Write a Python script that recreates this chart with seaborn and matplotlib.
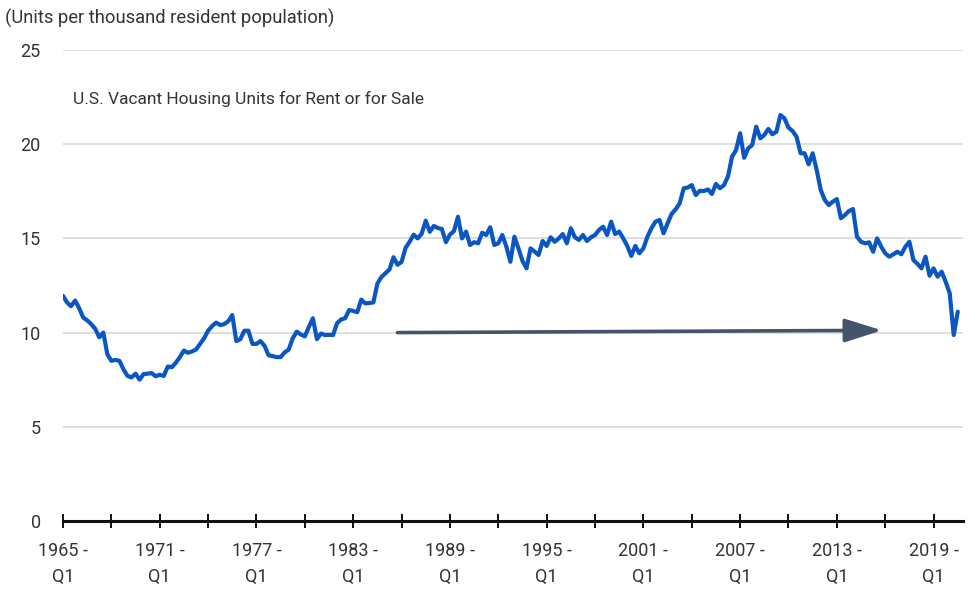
import numpy as np
import pandas as pd
import matplotlib
matplotlib.use("Agg")
import matplotlib.pyplot as plt
import seaborn as sns

# Quarterly series, 1965 Q1 .. 2020 Q3
vacant_units = [
    11.95, 11.6, 11.4, 11.7, 11.3, 10.8, 10.65, 10.45, 10.2, 9.75,
    10.0, 8.85, 8.5, 8.55, 8.5, 8.05, 7.7, 7.62, 7.82, 7.5,
    7.8, 7.82, 7.85, 7.68, 7.76, 7.7, 8.2, 8.16, 8.4, 8.7,
    9.05, 8.93, 9.0, 9.1, 9.4, 9.7, 10.1, 10.35, 10.53, 10.4,
    10.45, 10.6, 10.93, 9.55, 9.65, 10.1, 10.1, 9.4, 9.4, 9.55,
    9.3, 8.8, 8.75, 8.7, 8.7, 8.95, 9.1, 9.7, 10.05, 9.9,
    9.8, 10.3, 10.76, 9.65, 9.95, 9.87, 9.88, 9.87, 10.5, 10.7,
    10.76, 11.2, 11.15, 11.08, 11.75, 11.55, 11.57, 11.6, 12.6, 12.95,
    13.15, 13.35, 14.0, 13.6, 13.75, 14.5, 14.82, 15.2, 15.0, 15.25,
    15.94, 15.35, 15.66, 15.55, 15.5, 14.8, 15.2, 15.39, 16.15, 15.0,
    15.36, 14.65, 14.8, 14.74, 15.3, 15.18, 15.59, 14.65, 14.74, 15.18,
    14.56, 13.76, 15.09, 14.47, 13.8, 13.41, 14.47, 14.3, 14.12, 14.86,
    14.6, 15.06, 14.82, 15.0, 15.23, 14.74, 15.54, 15.06, 14.92, 15.18,
    14.86, 15.06, 15.18, 15.45, 15.62, 15.18, 15.89, 15.23, 15.36, 15.0,
    14.6, 14.07, 14.6, 14.21, 14.47, 15.09, 15.54, 15.89, 15.98, 15.27,
    15.8, 16.3, 16.54, 16.86, 17.66, 17.7, 17.83, 17.3, 17.53, 17.51,
    17.6, 17.36, 17.89, 17.66, 17.83, 18.3, 19.34, 19.69, 20.58, 19.28,
    19.78, 19.96, 20.93, 20.31, 20.49, 20.81, 20.53, 20.66, 21.55, 21.37,
    20.88, 20.7, 20.4, 19.52, 19.52, 18.93, 19.52, 18.63, 17.57, 17.04,
    16.77, 16.95, 17.09, 16.07, 16.24, 16.45, 16.56, 15.09, 14.82, 14.74,
    14.79, 14.29, 15.0, 14.56, 14.21, 14.03, 14.15, 14.29, 14.16, 14.56,
    14.82, 13.85, 13.65, 13.41, 14.03, 13.02, 13.41, 12.97, 13.23, 12.7,
    12.09, 9.87, 11.11,
]
start_year = 1965
label_years = [1965, 1971, 1977, 1983, 1989, 1995, 2001, 2007, 2013, 2019]
y_ticks = [0, 5, 10, 15, 20, 25]
arrow_from = (1985.75, 10.0)   # (year, value)
arrow_to = (2015.8, 10.12)

n = len(vacant_units)
quarters = [f"{start_year + i // 4}-Q{i % 4 + 1}" for i in range(n)]
df = pd.DataFrame({"idx": np.arange(n), "quarter": quarters, "value": vacant_units})

sns.set_theme(style="white")
plt.rcParams["font.family"] = ["Roboto", "DejaVu Sans"]

fig = plt.figure(figsize=(9.79, 5.98), dpi=100)
ax = fig.add_axes([63 / 979, 1 - 521 / 598, 900 / 979, 471 / 598])

sns.lineplot(data=df, x="idx", y="value", ax=ax, color="#0a56c2", linewidth=3.0,
             solid_joinstyle="round", zorder=3)

ax.set_xlim(0, 223.3)
ax.set_ylim(0, 25)
ax.set_yticks(y_ticks)
ax.set_yticklabels([str(v) for v in y_ticks], fontsize=13, color="#333333")
for v in y_ticks[1:]:
    ax.axhline(v, color="#d9d9d9", linewidth=1.2, zorder=1)

major = [(y - start_year) * 4 for y in range(start_year, 2021, 3)]
ax.set_xticks(major)
labels = []
for y in range(start_year, 2021, 3):
    labels.append(f"{y} -\nQ1" if y in label_years else "")
ax.set_xticklabels(labels, fontsize=13, color="#333333", linespacing=1.55)
ax.tick_params(axis="x", bottom=True, direction="inout", length=10, width=1.4,
               color="#111111", pad=10)
ax.tick_params(axis="y", left=False, length=0, pad=16)

for s in ["top", "right", "left"]:
    ax.spines[s].set_visible(False)
ax.spines["bottom"].set_color("#111111")
ax.spines["bottom"].set_linewidth(2.2)
ax.spines["bottom"].set_zorder(4)
ax.set_xlabel("")
ax.set_ylabel("")

def yr(v):
    return (v - start_year) * 4

ax.annotate("", xy=(yr(arrow_to[0]), arrow_to[1]), xytext=(yr(arrow_from[0]), arrow_from[1]),
            arrowprops=dict(arrowstyle="-|>,head_length=1.9,head_width=0.6",
                            color="#44546a", lw=2.6, shrinkA=0, shrinkB=0), zorder=5)

ax.text(yr(1965.6), 22.4, "U.S. Vacant Housing Units for Rent or for Sale",
        fontsize=12.5, color="#333333", va="center", ha="left")
fig.text(5 / 979, 1 - 18 / 598, "(Units per thousand resident population)",
         fontsize=13.2, color="#333333", va="center", ha="left")

fig.savefig("out.png", dpi=100)
